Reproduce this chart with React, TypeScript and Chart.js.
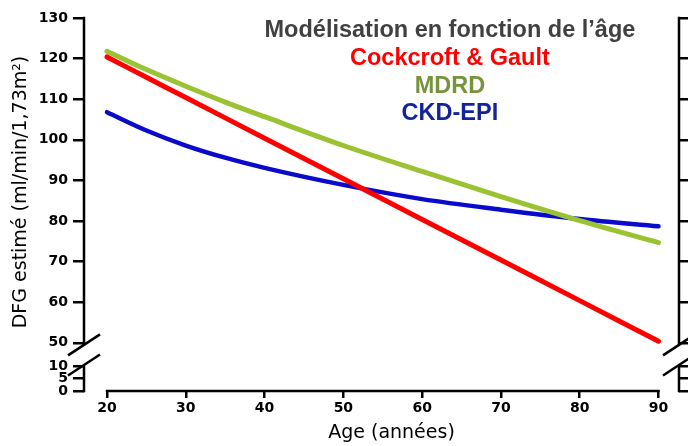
import React, { useEffect, useRef } from 'react';
import { Chart, registerables } from 'chart.js';

Chart.register(...registerables);

// ---- data ----
const ages = [20, 25, 30, 35, 40, 50, 60, 70, 80, 90];
const cockcroftGault = [120.4, 115.4, 110.4, 105.4, 100.4, 90.4, 80.4, 70.4, 60.4, 50.4];
const mdrd = [121.8, 117.3, 113.2, 109.3, 105.7, 98.6, 92.2, 86.0, 80.1, 74.7];
const ckdEpi = [106.8, 102.3, 98.6, 95.6, 93.1, 88.9, 85.4, 82.8, 80.5, 78.7];

const seriesLabels = ['Cockcroft & Gault', 'MDRD', 'CKD-EPI'];
const lineColors = ['#FF0000', '#9BC232', '#0A0ACC'];
const labelColors = ['#FF0000', '#77933C', '#13239B'];
const lineWidths = [5, 5, 4.5];

const chartTitle = 'Modélisation en fonction de l’âge';
const titleColor = '#404040';
const xTitle = 'Age (années)';
const yTitle = 'DFG estimé (ml/min/1,73m²)';

const xTicks = [20, 30, 40, 50, 60, 70, 80, 90];
const yTicksUpper = [50, 60, 70, 80, 90, 100, 110, 120, 130];
const yTicksLower = [0, 5, 10];

const tickFont = { family: '"DejaVu Sans", Verdana, sans-serif', size: 14, weight: 'bold' as const };
const AXIS_W = 2.5;

const setTicks = (values: number[]) => (scale: any) => {
  scale.ticks = values.map((v) => ({ value: v }));
};

const brokenAxisPlugin = {
  id: 'brokenAxis',
  afterDraw(chart: any) {
    const { ctx, chartArea, scales } = chart;
    const xs = scales.x;
    ctx.save();
    ctx.strokeStyle = '#000';
    ctx.lineWidth = AXIS_W;
    ctx.lineCap = 'butt';
    const seg = (x1: number, y1: number, x2: number, y2: number) => {
      ctx.beginPath();
      ctx.moveTo(x1, y1);
      ctx.lineTo(x2, y2);
      ctx.stroke();
    };
    // x axis (detached, from first to last tick)
    const xb = chartArea.bottom;
    seg(
      xs.getPixelForValue(xTicks[0]) - AXIS_W / 2,
      xb,
      xs.getPixelForValue(xTicks[xTicks.length - 1]) + AXIS_W / 2,
      xb
    );
    const pairs: [any, any, number][] = [
      [scales.y, scales.yLow, chartArea.left],
      [scales.yRight, scales.yRightLow, chartArea.right],
    ];
    const topV = yTicksUpper[yTicksUpper.length - 1];
    const breakHi = yTicksUpper[0];
    const breakLo = yTicksLower[yTicksLower.length - 1];
    for (const [up, low, ax] of pairs) {
      const yTop = up.getPixelForValue(topV) - AXIS_W / 2;
      const yB1 = up.getPixelForValue(breakHi) + 2;
      const yB2 = low.getPixelForValue(breakLo) - 1;
      const yBot = low.getPixelForValue(yTicksLower[0]) + AXIS_W / 2;
      seg(ax, yTop, ax, yB1);
      seg(ax, yB2, ax, yBot);
      // break slashes
      const dx = 16;
      const dy = 10.5;
      seg(ax - dx, yB1 + dy, ax + dx, yB1 - dy);
      seg(ax - dx, yB2 + dy, ax + dx, yB2 - dy);
    }
    ctx.restore();
  },
};

const textPlugin = {
  id: 'legendText',
  afterDraw(chart: any) {
    const { ctx, chartArea, scales } = chart;
    const cx = chartArea.left + chartArea.width * 0.615;
    const y0 = chartArea.top + 19.3;
    const step = 27.6;
    ctx.save();
    ctx.textAlign = 'center';
    ctx.textBaseline = 'alphabetic';
    ctx.font = 'bold 23.5px "Liberation Sans", Arial, sans-serif';
    ctx.fillStyle = titleColor;
    ctx.fillText(chartTitle, cx, y0);
    chart.data.datasets.forEach((ds: any, i: number) => {
      ctx.fillStyle = labelColors[i];
      ctx.fillText(ds.label, cx, y0 + step * (i + 1));
    });
    // x axis title
    const xs = scales.x;
    ctx.font = '19px "DejaVu Sans", Verdana, sans-serif';
    ctx.fillStyle = '#000';
    ctx.textBaseline = 'middle';
    ctx.fillText(xTitle, (chartArea.left + chartArea.right) / 2 + 10, xs.bottom - 13);
    ctx.restore();
  },
};

export default function App() {
  const canvasRef = useRef<HTMLCanvasElement | null>(null);

  useEffect(() => {
    if (!canvasRef.current) return;
    const series = [cockcroftGault, mdrd, ckdEpi];
    const gridTicksOnly = (len: number) => ({
      display: true,
      drawOnChartArea: false,
      drawTicks: true,
      tickLength: len,
      color: '#000',
      lineWidth: AXIS_W,
    });
    const chart = new Chart(canvasRef.current, {
      type: 'line',
      data: {
        datasets: series.map((vals, i) => ({
          label: seriesLabels[i],
          data: ages.map((a, j) => ({ x: a, y: vals[j] })),
          borderColor: lineColors[i],
          backgroundColor: lineColors[i],
          borderWidth: lineWidths[i],
          borderCapStyle: 'round' as const,
          pointRadius: 0,
          fill: false,
          cubicInterpolationMode: 'monotone' as const,
          xAxisID: 'x',
          yAxisID: 'y',
        })),
      },
      options: {
        animation: false,
        responsive: false,
        devicePixelRatio: 1,
        layout: { padding: { top: 18, left: 0, right: 0, bottom: 0 } },
        plugins: {
          legend: { display: false },
          tooltip: { enabled: false },
          title: { display: false },
        },
        scales: {
          x: {
            type: 'linear',
            position: 'bottom',
            min: 17.08,
            max: 92.6,
            afterBuildTicks: setTicks(xTicks),
            afterFit: (s: any) => {
              s.height = 55;
            },
            border: { display: false },
            grid: gridTicksOnly(7),
            ticks: {
              color: '#000',
              font: tickFont,
              padding: 2,
              autoSkip: false,
              maxRotation: 0,
            },
            title: { display: false },
          },
          y: {
            type: 'linear',
            position: 'left',
            stack: 'left',
            stackWeight: 348,
            weight: 1,
            min: 44.3,
            max: 130,
            afterBuildTicks: setTicks(yTicksUpper),
            afterFit: (s: any) => {
              s.width = 84;
            },
            border: { display: false },
            grid: gridTicksOnly(11),
            ticks: { color: '#000', font: tickFont, padding: 5, autoSkip: false },
            title: {
              display: true,
              text: yTitle,
              color: '#000',
              font: { family: '"DejaVu Sans", Verdana, sans-serif', size: 19 },
              padding: { top: 10, bottom: 0 },
            },
          },
          yLow: {
            type: 'linear',
            position: 'left',
            stack: 'left',
            stackWeight: 25,
            weight: 0,
            min: 0,
            max: 10,
            afterBuildTicks: setTicks(yTicksLower),
            afterFit: (s: any) => {
              s.width = 84;
            },
            border: { display: false },
            grid: gridTicksOnly(11),
            ticks: { color: '#000', font: tickFont, padding: 5, autoSkip: false },
          },
          yRight: {
            type: 'linear',
            position: 'right',
            stack: 'right',
            stackWeight: 348,
            weight: 0,
            min: 44.3,
            max: 130,
            afterBuildTicks: setTicks(yTicksUpper),
            afterFit: (s: any) => {
              s.width = 21;
            },
            border: { display: false },
            grid: gridTicksOnly(12),
            ticks: { display: false },
          },
          yRightLow: {
            type: 'linear',
            position: 'right',
            stack: 'right',
            stackWeight: 25,
            weight: 1,
            min: 0,
            max: 10,
            afterBuildTicks: setTicks(yTicksLower),
            afterFit: (s: any) => {
              s.width = 21;
            },
            border: { display: false },
            grid: gridTicksOnly(12),
            ticks: { display: false },
          },
        },
      } as any,
      plugins: [brokenAxisPlugin, textPlugin],
    });
    return () => chart.destroy();
  }, []);

  return (
    <div
      style={{
        position: 'absolute',
        left: 0,
        top: 0,
        width: 688,
        height: 446,
        overflow: 'hidden',
        background: '#fff',
      }}
    >
      <canvas ref={canvasRef} width={700} height={446} style={{ display: 'block' }} />
    </div>
  );
}
